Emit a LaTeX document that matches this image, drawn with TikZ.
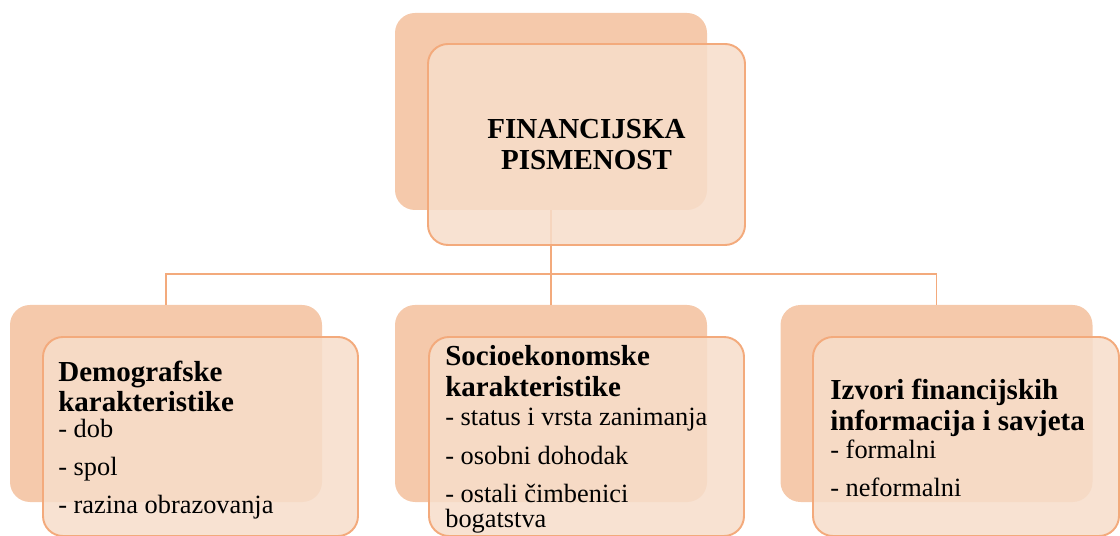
\documentclass[tikz,border=0pt]{standalone}
\usepackage{fontspec}
\setmainfont{Liberation Serif}
\usetikzlibrary{positioning}
\definecolor{peachback}{RGB}{245,201,171}
\definecolor{peachfront}{RGB}{247,221,202}
\definecolor{peachline}{RGB}{243,170,124}
\tikzset{
	backbox/.style={rounded corners=0.4cm, fill=peachback, minimum width=6.24cm, minimum height=3.94cm, inner sep=0}
}
\tikzset{
	frontbox/.style={rounded corners=0.4cm, draw=peachline, line width=1.1pt, fill=peachfront, fill opacity=0.85, text opacity=1, minimum width=6.3cm, minimum height=3.98cm, inner sep=0}
}
\tikzset{
	link/.style={draw=peachline, line width=1.1pt}
}
\tikzset{
	boxtext/.style={anchor=north west, inner sep=0, align=left, font=\fontsize{15}{16}\selectfont}
}
\newcommand{\boxhead}[1]{{\fontsize{16.5}{16}\selectfont\bfseries #1}}

\begin{document}
\begin{tikzpicture}
      \useasboundingbox (0,0) rectangle (22.4,-10.72);
      \node[backbox] (finback) at (11.02,-2.23) {};
      \node[backbox] (demoback) at (3.32,-8.07) {};
      \node[backbox] (socioback) at (11.02,-8.07) {};
      \node[backbox] (izvoriback) at (18.73,-8.07) {};
      \coordinate (bus) at (11.02,-5.48);
      \draw[link] (finback.south) -- (bus);
      \draw[link] (demoback.north) |- (bus) -| (izvoriback.north);
      \draw[link] (socioback.north) -- (bus);
      \node[frontbox, minimum width=6.34cm, minimum height=4.02cm, align=center, font=\fontsize{16.5}{17.6}\selectfont\bfseries] (fin) at (11.73,-2.89) {FINANCIJSKA\\PISMENOST};
      \node[frontbox] (demo) at (4.01,-8.73) {};
      \node[frontbox] (socio) at (11.73,-8.73) {};
      \node[frontbox, minimum width=6.12cm] (izvori) at (19.32,-8.73) {};
      \node[boxtext] (demotext) at (1.16,-7.205) {\strut\boxhead{Demografske}\\ \boxhead{karakteristike}\\[-1pt] - dob\\[5.5pt] - spol\\[5.5pt] - razina obrazovanja};
      \node[boxtext] (sociotext) at (8.9,-6.905) {\strut\boxhead{Socioekonomske}\\ \boxhead{karakteristike}\\[1pt] - status i vrsta zanimanja\\[6pt] - osobni dohodak\\[5.5pt] - ostali čimbenici\\[-1.8pt] bogatstva};
      \node[boxtext] (izvoritext) at (16.6,-7.565) {\strut\boxhead{Izvori financijskih}\\[0.5pt] \boxhead{informacija i savjeta}\\ - formalni\\[5.5pt] - neformalni};
    \end{tikzpicture}
\end{document}
